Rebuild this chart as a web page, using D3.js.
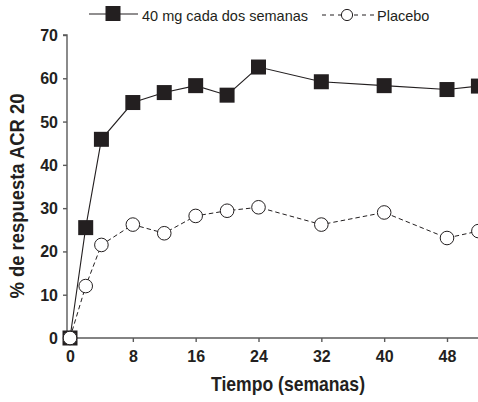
<!DOCTYPE html>
<html><head><meta charset="utf-8">
<script src="https://cdn.jsdelivr.net/npm/d3@7"></script>
<style>
html,body{margin:0;padding:0;background:#fff;}
svg{display:block;}
.tick-lbl{font-family:"Liberation Sans",Arial,sans-serif;font-weight:bold;font-size:16px;fill:#231f20;}
.title{font-family:"Liberation Sans",Arial,sans-serif;font-weight:bold;font-size:21px;fill:#231f20;}
.leg{font-family:"Liberation Sans",Arial,sans-serif;font-size:14.5px;fill:#231f20;}
</style></head>
<body>
<svg id="c" width="478" height="402"></svg>
<script>
const weeks = [0, 2, 4, 8, 12, 16, 20, 24, 32, 40, 48, 52];
const adalimumab = [0, 25.5, 45.9, 54.4, 56.7, 58.3, 56.1, 62.6, 59.2, 58.3, 57.4, 58.2];
const placebo = [0, 12.0, 21.5, 26.2, 24.2, 28.2, 29.4, 30.2, 26.2, 29.0, 23.1, 24.7];
const xTicks = [0, 8, 16, 24, 32, 40, 48];
const yTicks = [0, 10, 20, 30, 40, 50, 60, 70];
const seriesNames = ["40 mg cada dos semanas", "Placebo"];
const xTitle = "Tiempo (semanas)";
const yTitle = "% de respuesta ACR 20";

const svg = d3.select("#c");
const x = d3.scaleLinear().domain([0, 48]).range([70, 447]);
const y = d3.scaleLinear().domain([0, 70]).range([338, 35]);
const axisColor = "#5a5a5a";
const ink = "#231f20";

// y axis
const yAx = svg.append("g").attr("transform", "translate(67,0)")
  .call(d3.axisLeft(y).tickValues(yTicks).tickSize(4).tickPadding(5));
yAx.select(".domain").attr("stroke", axisColor).attr("stroke-width", 1.4).attr("d", `M-4,${y(70)}H0V${y(0)}`);
yAx.selectAll(".tick line").attr("stroke", axisColor).attr("stroke-width", 1.4);
yAx.selectAll(".tick text").attr("class", "tick-lbl").attr("dy", "0.34em");

// x axis
const xAx = svg.append("g").attr("transform", `translate(0,${y(0)})`)
  .call(d3.axisBottom(x).tickValues(xTicks).tickSize(4).tickPadding(9));
xAx.select(".domain").attr("stroke", axisColor).attr("stroke-width", 1.4).attr("d", `M67,0H478`);
xAx.selectAll(".tick line").attr("stroke", axisColor).attr("stroke-width", 1.4);
xAx.selectAll(".tick text").attr("class", "tick-lbl");

// titles
svg.append("text").attr("class", "title").attr("x", 288).attr("y", 391)
  .attr("text-anchor", "middle").attr("textLength", 154).attr("lengthAdjust", "spacingAndGlyphs").text(xTitle);
svg.append("text").attr("class", "title")
  .attr("transform", "translate(24,196) rotate(-90)")
  .attr("text-anchor", "middle").attr("textLength", 205).attr("lengthAdjust", "spacingAndGlyphs").text(yTitle);

// lines
const line = d3.line().x(d => x(d[0])).y(d => y(d[1]));
const pData = weeks.map((w, i) => [w, placebo[i]]);
const aData = weeks.map((w, i) => [w, adalimumab[i]]);

svg.append("path").datum(pData).attr("d", line).attr("fill", "none")
  .attr("stroke", ink).attr("stroke-width", 1).attr("stroke-dasharray", "4.5,3");
svg.append("path").datum(aData).attr("d", line).attr("fill", "none")
  .attr("stroke", ink).attr("stroke-width", 1.1);

svg.selectAll(".sq").data(aData).enter().append("rect")
  .attr("x", d => x(d[0]) - 7.5).attr("y", d => y(d[1]) - 7.5)
  .attr("width", 15).attr("height", 15).attr("fill", ink);
svg.selectAll(".ci").data(pData).enter().append("circle")
  .attr("cx", d => x(d[0])).attr("cy", d => y(d[1])).attr("r", 6.8)
  .attr("fill", "#fff").attr("stroke", ink).attr("stroke-width", 1);

// legend
const lg = svg.append("g");
lg.append("line").attr("x1", 89).attr("x2", 138).attr("y1", 14).attr("y2", 14).attr("stroke", ink).attr("stroke-width", 1.1);
lg.append("rect").attr("x", 105.5).attr("y", 6).attr("width", 15).attr("height", 15).attr("fill", ink);
lg.append("text").attr("class", "leg").attr("x", 142).attr("y", 21).text(seriesNames[0]);
lg.append("line").attr("x1", 322).attr("x2", 376).attr("y1", 15).attr("y2", 15).attr("stroke", ink).attr("stroke-width", 1).attr("stroke-dasharray", "4,4");
lg.append("circle").attr("cx", 347).attr("cy", 15).attr("r", 5.6).attr("fill", "#fff").attr("stroke", ink).attr("stroke-width", 1);
lg.append("text").attr("class", "leg").attr("x", 377).attr("y", 21).text(seriesNames[1]);
</script>
</body></html>
